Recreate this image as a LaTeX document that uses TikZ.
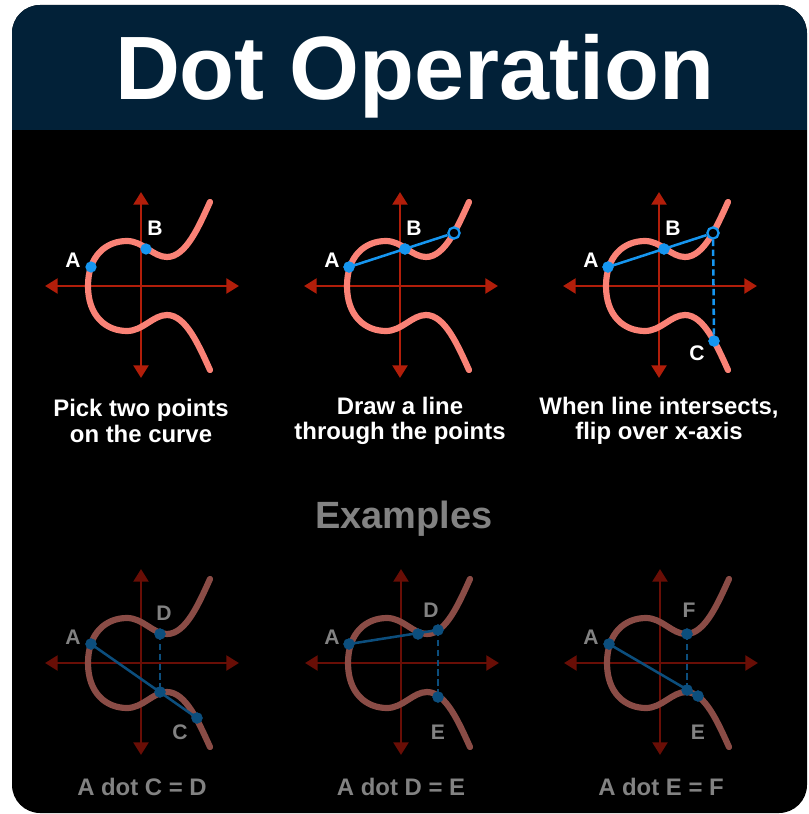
\documentclass[tikz,border=0pt]{standalone}
\usepackage{fontspec}
\setmainfont{Liberation Sans}
\usetikzlibrary{arrows.meta,calc,positioning}

\definecolor{navy}{RGB}{2,33,56}
\definecolor{axtop}{RGB}{178,30,10}
\definecolor{axbot}{RGB}{105,14,6}
\definecolor{cvtop}{RGB}{250,130,118}
\definecolor{cvbot}{RGB}{138,76,70}
\definecolor{dottop}{RGB}{22,150,240}
\definecolor{dotbot}{RGB}{12,78,125}
\definecolor{txtgray}{RGB}{130,130,130}

\begin{document}
\begin{tikzpicture}
  [x=0.025cm, y=-0.025cm,
   >={Triangle[length=9pt,width=10.5pt]},
   every node/.style={font=\bfseries},
   axis/.style={line width=2.1pt, <->},
   curve/.style={line width=4.4pt, line cap=round},
   topdot/.style={circle, fill=dottop, inner sep=0pt, minimum size=8pt},
   opendot/.style={circle, draw=dottop, fill=black, line width=1.6pt, inner sep=0pt, minimum size=8pt},
   botdot/.style={circle, fill=dotbot, inner sep=0pt, minimum size=8pt},
   toplbl/.style={text=white, font=\fontsize{15}{15}\selectfont\bfseries},
   botlbl/.style={text=txtgray, font=\fontsize{15}{15}\selectfont\bfseries},
  ]
  \tikzstyle{topline}=[draw=dottop, line width=1.8pt]
  \tikzstyle{botline}=[draw=dotbot, line width=1.8pt]
  \tikzstyle{dashline}=[dash pattern=on 4.5pt off 2.5pt]
  \tikzstyle{caption}=[align=center, font=\fontsize{17}{18}\selectfont\bfseries]

\useasboundingbox (0,0) rectangle (808,814);
% card and header
\fill[black, rounded corners=20] (12,5) rectangle (807,813);
\begin{scope}
  \clip[rounded corners=20] (12,5) rectangle (807,813);
  \fill[navy] (12,5) rectangle (807,130);
\end{scope}
\node[anchor=base, text=white, font=\fontsize{64}{64}\selectfont\bfseries] (title) at (415,100) {Dot Operation};

% axes and curves
\foreach \px/\py/\ax/\cv in {141/286/axtop/cvtop, 400/286/axtop/cvtop, 659/286/axtop/cvtop,
                             141/663/axbot/cvbot, 401/663/axbot/cvbot, 660/663/axbot/cvbot}{
  \begin{scope}[shift={(\px,\py)}, yscale=-1]
    \draw[axis, \ax] (-96,0) -- (98,0);
    \draw[axis, \ax] (0,-92) -- (0,94);
    \draw[curve, \cv] (69,84) .. controls (58,60) and (45,29) .. (26,29)
      .. controls (12,29) and (2,45) .. (-14,45)
      .. controls (-35,45) and (-53,30) .. (-53,0)
      .. controls (-53,-30) and (-35,-45) .. (-14,-45)
      .. controls (2,-45) and (12,-29) .. (26,-29)
      .. controls (45,-29) and (58,-60) .. (69,-84);
  \end{scope}
}

% pick two points
\begin{scope}[shift={(141,286)}, yscale=-1]
  \node[topdot] (a1) at (-50,19) {};
  \node[topdot] (b1) at (5,37) {};
  \node[toplbl] at (-68,26) {A};
  \node[toplbl] at (14,58) {B};
\end{scope}
\node[caption, text=white] (cap1) at (141,421) {Pick two points\\on the curve};

% draw a line
\begin{scope}[shift={(400,286)}, yscale=-1]
  \node[topdot] (a2) at (-51,19) {};
  \node[topdot] (b2) at (5,37) {};
  \node[opendot] (o2) at (54,53) {};
  \node[toplbl] at (-68,26) {A};
  \node[toplbl] at (14,58) {B};
\end{scope}
\draw[topline] (a2.center) -- (o2);
\node[topdot] at (a2) {};
\node[topdot] at (b2) {};
\node[caption, text=white] (cap2) at (400,421) {Draw a line\\through the points};

% flip over x-axis
\begin{scope}[shift={(659,286)}, yscale=-1]
  \node[topdot] (a3) at (-51,19) {};
  \node[topdot] (b3) at (5,37) {};
  \node[opendot] (o3) at (54,53) {};
  \node[topdot] (c3) at (55,-55) {};
  \node[toplbl] at (-68,26) {A};
  \node[toplbl] at (14,58) {B};
  \node[toplbl] at (38,-67) {C};
\end{scope}
\draw[topline] (a3.center) -- (o3);
\draw[topline, dashline] (o3) -- (c3.center);
\node[topdot] at (a3) {};
\node[topdot] at (b3) {};
\node[topdot] at (c3) {};
\node[caption, text=white] (cap3) at (659,421) {When line intersects,\\flip over x-axis};

\node[anchor=base, text=txtgray, font=\fontsize{27}{27}\selectfont\bfseries] (ex) at (404,528) {Examples};

% A dot C = D
\begin{scope}[shift={(141,663)}, yscale=-1]
  \node[botdot] (a4) at (-50,19) {};
  \node[botdot] (d4) at (19,29) {};
  \node[botdot] (p4) at (19,-29) {};
  \node[botdot] (c4) at (56,-55) {};
  \node[botlbl] at (-68,26) {A};
  \node[botlbl] at (23,50) {D};
  \node[botlbl] at (39,-69) {C};
\end{scope}
\draw[botline] (a4.center) -- (c4.center);
\draw[botline, dashline] (d4.center) -- (p4.center);
\foreach \n in {a4,d4,p4,c4} \node[botdot] at (\n) {};
\node[caption, text=txtgray] (cap4) at (142,787) {A dot C = D};

% A dot D = E
\begin{scope}[shift={(401,663)}, yscale=-1]
  \node[botdot] (a5) at (-52,19) {};
  \node[botdot] (p5) at (17,29) {};
  \node[botdot] (d5) at (37,33) {};
  \node[botdot] (e5) at (37,-34) {};
  \node[botlbl] at (-69,26) {A};
  \node[botlbl] at (30,53) {D};
  \node[botlbl] at (37,-69) {E};
\end{scope}
\draw[botline] (a5.center) -- (d5.center);
\draw[botline, dashline] (d5.center) -- (e5.center);
\foreach \n in {a5,p5,d5,e5} \node[botdot] at (\n) {};
\node[caption, text=txtgray] (cap5) at (401,787) {A dot D = E};

% A dot E = F
\begin{scope}[shift={(660,663)}, yscale=-1]
  \node[botdot] (a6) at (-51,19) {};
  \node[botdot] (f6) at (27,29) {};
  \node[botdot] (p6) at (27,-27) {};
  \node[botdot] (e6) at (38,-33) {};
  \node[botlbl] at (-69,26) {A};
  \node[botlbl] at (29,53) {F};
  \node[botlbl] at (38,-69) {E};
\end{scope}
\draw[botline] (a6.center) -- (e6.center);
\draw[botline, dashline] (f6.center) -- (p6.center);
\foreach \n in {a6,f6,p6,e6} \node[botdot] at (\n) {};
\node[caption, text=txtgray] (cap6) at (661,787) {A dot E = F};
\end{tikzpicture}
\end{document}
